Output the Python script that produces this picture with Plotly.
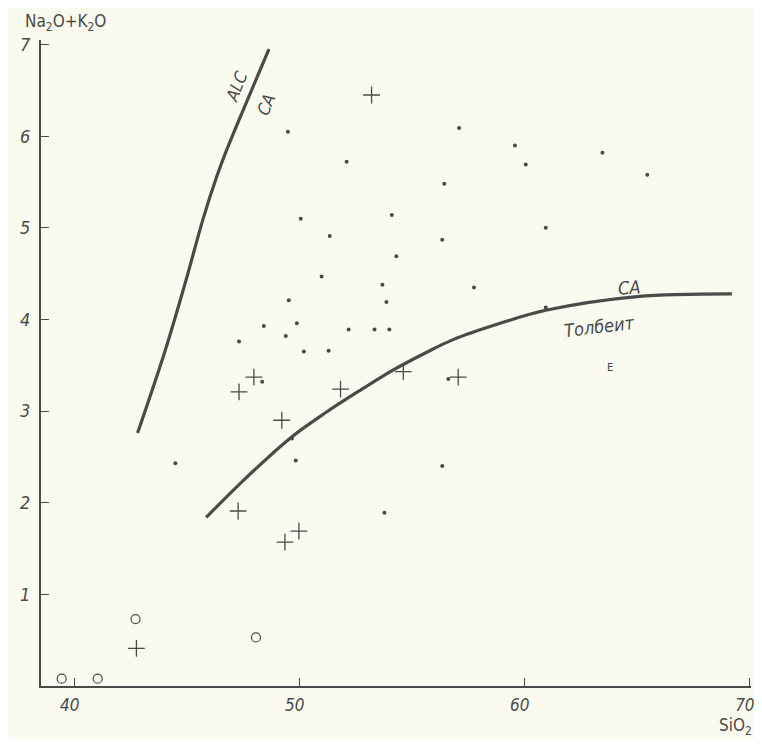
import plotly.graph_objects as go

# --- data ---
dots_x = [49.47, 52.08, 56.42, 50.04, 54.09, 51.33, 56.33, 54.29, 50.97, 53.67, 53.85, 49.51,
          48.40, 49.87, 47.30, 49.38, 52.17, 53.32, 53.98, 50.18, 51.28, 48.33, 49.65, 44.47,
          49.82, 56.33, 53.76, 56.60, 57.08, 59.56, 60.04, 63.45, 65.44, 60.93, 57.74, 60.93]
dots_y = [6.05, 5.72, 5.48, 5.10, 5.14, 4.91, 4.87, 4.69, 4.47, 4.38, 4.19, 4.21,
          3.93, 3.96, 3.76, 3.82, 3.89, 3.89, 3.89, 3.65, 3.66, 3.32, 2.70, 2.43,
          2.46, 2.40, 1.89, 3.35, 6.09, 5.90, 5.69, 5.82, 5.58, 5.00, 4.35, 4.13]

plus_x = [53.19, 47.96, 47.30, 49.20, 51.81, 54.60, 57.04, 47.26, 49.96, 49.34, 42.74]
plus_y = [6.45, 3.37, 3.21, 2.90, 3.24, 3.43, 3.37, 1.91, 1.69, 1.57, 0.41]

circ_x = [39.42, 41.02, 42.70, 48.05]
circ_y = [0.08, 0.08, 0.73, 0.53]

# ALC / CA boundary
alc_x = [42.79, 44.03, 44.91, 45.73, 46.31, 46.75, 47.68, 48.63]
alc_y = [2.76, 3.67, 4.40, 5.12, 5.56, 5.85, 6.40, 6.95]

# CA / tholeiite boundary
tho_x = [45.84, 47.52, 49.60, 51.19, 52.70, 54.16, 55.62, 56.81, 58.80, 60.93, 65.00, 69.20]
tho_y = [1.84, 2.25, 2.71, 2.99, 3.23, 3.45, 3.64, 3.78, 3.95, 4.10, 4.25, 4.28]

x_ticks = [40, 50, 60, 70]
y_ticks = [1, 2, 3, 4, 5, 6, 7]

ink = "#4a4a48"
paper = "#fafaf0"
font_fam = "DejaVu Sans Condensed, DejaVu Sans, sans-serif"

fig = go.Figure()
fig.add_trace(go.Scatter(x=alc_x, y=alc_y, mode="lines",
                         line=dict(color=ink, width=3.2, shape="spline", smoothing=1.0),
                         hoverinfo="skip"))
fig.add_trace(go.Scatter(x=tho_x, y=tho_y, mode="lines",
                         line=dict(color=ink, width=3.2, shape="spline", smoothing=1.0),
                         hoverinfo="skip"))
fig.add_trace(go.Scatter(x=dots_x, y=dots_y, mode="markers",
                         marker=dict(symbol="circle", size=4, color=ink)))
fig.add_trace(go.Scatter(x=plus_x, y=plus_y, mode="markers",
                         marker=dict(symbol="cross-thin", size=12,
                                     line=dict(color=ink, width=1.3))))
fig.add_trace(go.Scatter(x=circ_x, y=circ_y, mode="markers",
                         marker=dict(symbol="circle-open", size=9,
                                     line=dict(color=ink, width=1.2), color=ink)))

lab_font = dict(family=font_fam, size=17, color=ink, style="italic")
fig.add_annotation(x=47.17, y=6.54, text="ALC", showarrow=False, textangle=-68, font=lab_font)
fig.add_annotation(x=48.50, y=6.34, text="CA", showarrow=False, textangle=-68, font=lab_font)
fig.add_annotation(x=64.65, y=4.35, text="CA", showarrow=False, textangle=-4,
                   font=dict(family=font_fam, size=18, color=ink, style="italic"))
fig.add_annotation(x=63.32, y=3.92, text="Толбеит", showarrow=False, textangle=-7,
                   font=dict(family=font_fam, size=18, color=ink, style="italic"))
fig.add_annotation(x=63.8, y=3.48, text="E", showarrow=False,
                   font=dict(family=font_fam, size=11, color=ink))

fig.add_annotation(xref="paper", yref="paper", x=-0.0254, y=1.006, xanchor="left", yanchor="bottom",
                   text="Na<sub>2</sub>O+K<sub>2</sub>O", showarrow=False,
                   font=dict(family=font_fam, size=17, color=ink))
fig.add_annotation(xref="paper", yref="paper", x=1.004, y=-0.042, xanchor="right", yanchor="top",
                   text="SiO<sub>2</sub>", showarrow=False,
                   font=dict(family=font_fam, size=17, color=ink))

fig.update_xaxes(range=[38.5, 70.05], tickvals=x_ticks, ticks="inside", ticklen=8,
                 tickcolor=ink, tickwidth=1.2, showline=True, linecolor=ink, linewidth=2,
                 showgrid=False, zeroline=False, ticklabelstandoff=3, ticklabelshift=-5,
                 ticklabeloverflow="allow", automargin=False,
                 tickfont=dict(family=font_fam, size=17, color=ink, style="italic"))
fig.update_yaxes(range=[0, 7.05], tickvals=y_ticks, ticks="inside", ticklen=8,
                 tickcolor=ink, tickwidth=1.2, showline=True, linecolor=ink, linewidth=2,
                 showgrid=False, zeroline=False, ticklabelstandoff=5, automargin=False,
                 tickfont=dict(family=font_fam, size=18, color=ink, style="italic"))

# page body has an 8px margin: the figure is sized to fit inside it
fig.update_layout(width=746, height=731, margin=dict(l=33, r=3, t=32, b=53),
                  paper_bgcolor=paper, plot_bgcolor=paper, showlegend=False)

fig.write_html("out.html")
